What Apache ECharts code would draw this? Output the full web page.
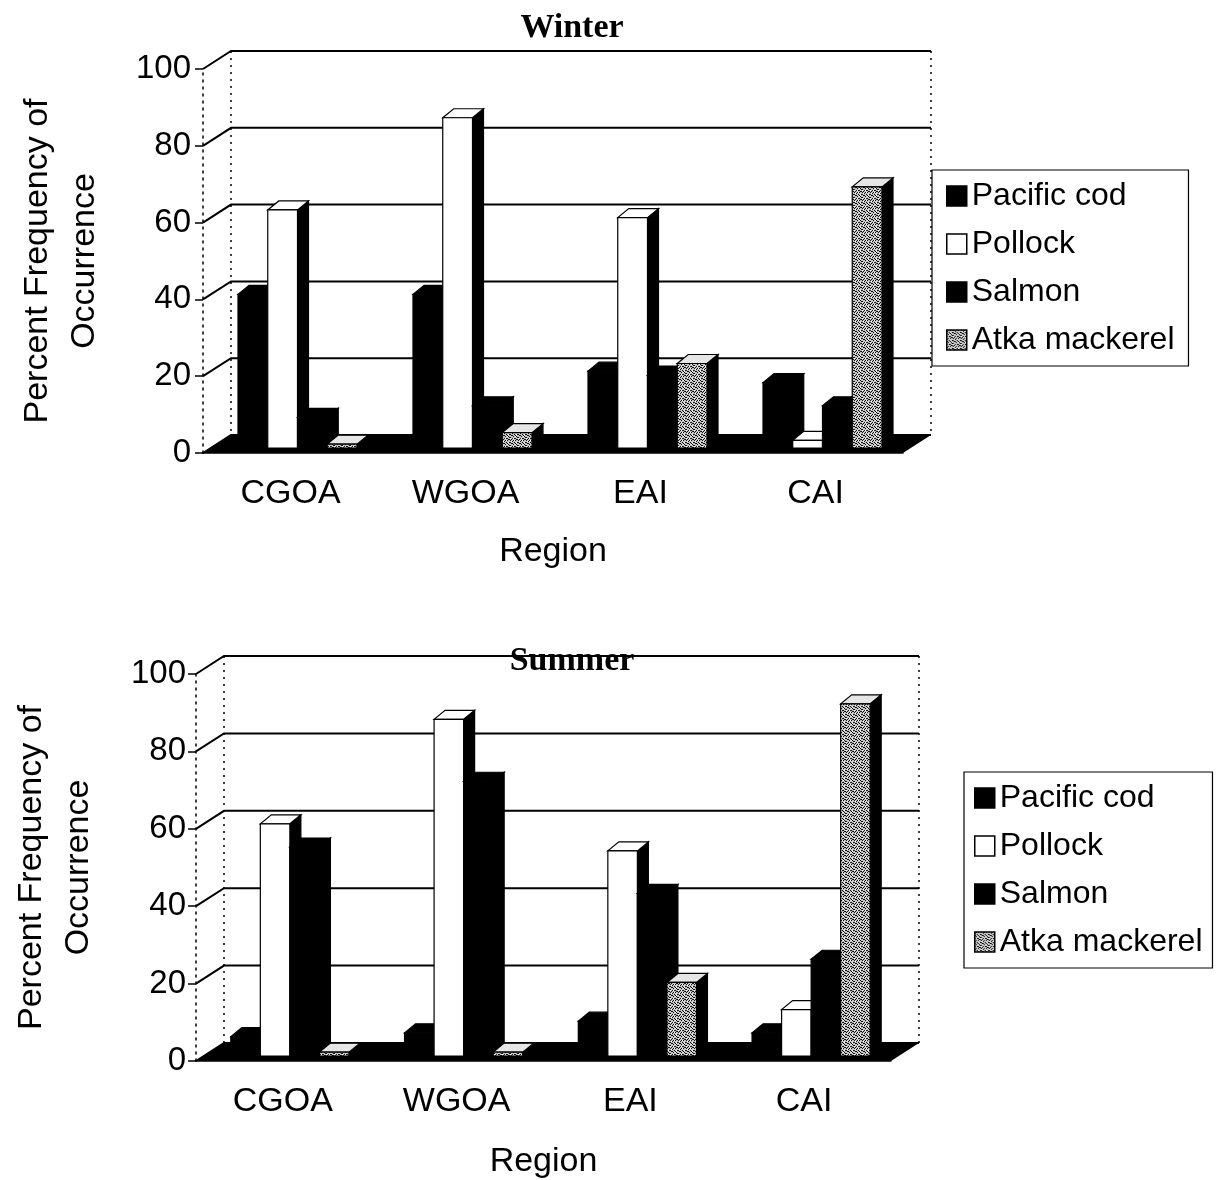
<!DOCTYPE html>
<html>
<head>
<meta charset="utf-8">
<script src="https://cdn.jsdelivr.net/npm/echarts@6/dist/echarts.min.js"></script>
<style>
  html, body { margin: 0; padding: 0; background: #fff; }
  #chart { width: 1217px; height: 1180px; }
</style>
</head>
<body>
<div id="chart"></div>
<script>
// data
const regions = ["CGOA", "WGOA", "EAI", "CAI"];
const speciesNames = ["Pacific cod", "Pollock", "Salmon", "Atka mackerel"];
const yTicks = [0, 20, 40, 60, 80, 100];

const winterCod = [40, 40, 20, 17];
const winterPollock = [62, 86, 60, 2];
const winterSalmon = [8, 11, 19, 11];
const winterAtka = [1, 4, 22, 68];

const summerCod = [5, 6, 9, 6];
const summerPollock = [60, 87, 53, 12];
const summerSalmon = [54, 71, 42, 25];
const summerAtka = [1, 1, 19, 91];

// fake-3D geometry (pixels)
const WALL_DX = 28, WALL_DY = -18;   // depth of the side wall / floor
const BAR_FX = 7, BAR_FY = -5;       // bar front face offset from front plane
const BAR_DX = 11, BAR_DY = -9;      // bar depth
const BAR_FRAC = 0.17;               // bar width as a share of the category band

const SANS = "Liberation Sans, Arial, sans-serif";

// grey speckle like the scanned Atka mackerel fill
function speckle() {
	const c = document.createElement("canvas");
	c.width = 8;
	c.height = 8;
	const g = c.getContext("2d");
	g.fillStyle = "#c4c4c4";
	g.fillRect(0, 0, 8, 8);
	g.fillStyle = "#111";
	const dots = [[0, 1], [3, 0], [5, 2], [1, 4], [6, 5], [2, 6], [4, 7], [7, 3], [3, 3], [6, 0],
		[0, 6], [5, 5], [2, 2], [7, 7], [4, 4], [1, 0], [6, 2], [3, 6], [0, 3], [5, 7]];
	dots.forEach(([x, y]) => g.fillRect(x, y, 1, 1));
	g.fillStyle = "#fff";
	[[2, 0], [7, 1], [4, 2], [1, 6], [6, 6], [3, 4]].forEach(([x, y]) => g.fillRect(x, y, 1, 1));
	return { image: c, repeat: "repeat" };
}
const atkaFill = speckle();

const faceStyle = [
	{ front: "#000", top: "#000" },
	{ front: "#fff", top: "#fff" },
	{ front: "#000", top: "#000" },
	{ front: atkaFill, top: "#e6e6e6" },
];

function barRender(k) {
	return function (params, api) {
		const base = api.coord([api.value(0), 0]);
		const top = api.coord([api.value(0), api.value(1)]);
		const band = api.size([1, 0])[0];
		const w = band * BAR_FRAC;
		const x = base[0] - 2 * w + k * w + BAR_FX;
		const yb = base[1] + BAR_FY;
		const yt = top[1] + BAR_FY;
		const line = { stroke: "#000", lineWidth: 1.2 };
		return {
			type: "group",
			children: [
				{
					type: "polygon",
					shape: { points: [[x + w, yt], [x + w + BAR_DX, yt + BAR_DY], [x + w + BAR_DX, yb + BAR_DY], [x + w, yb]] },
					style: { fill: "#000", ...line },
				},
				{
					type: "polygon",
					shape: { points: [[x, yt], [x + w, yt], [x + w + BAR_DX, yt + BAR_DY], [x + BAR_DX, yt + BAR_DY]] },
					style: { fill: faceStyle[k].top, ...line },
				},
				{
					type: "rect",
					shape: { x: x, y: yt, width: w, height: yb - yt },
					style: { fill: faceStyle[k].front, ...line },
				},
			],
		};
	};
}

// back wall gridlines, side wall edges and the black floor
function wallRender(params, api) {
	const cs = params.coordSys;
	const x0 = cs.x, x1 = cs.x + cs.width;
	const y = api.coord([0, api.value(1)])[1];
	const children = [
		{
			type: "polyline",
			shape: { points: [[x0, y], [x0 + WALL_DX, y + WALL_DY], [x1 + WALL_DX, y + WALL_DY]] },
			style: { stroke: "#000", lineWidth: 2, fill: null },
		},
	];
	if (params.dataIndex === 0) {
		const yTop = api.coord([0, yTicks[yTicks.length - 1]])[1];
		const dotted = { stroke: "#000", lineWidth: 1.5, lineDash: [2, 5], fill: null };
		children.push(
			{ type: "line", shape: { x1: x0 + WALL_DX, y1: yTop + WALL_DY, x2: x0 + WALL_DX, y2: y + WALL_DY }, style: dotted },
			{ type: "line", shape: { x1: x1 + WALL_DX, y1: yTop + WALL_DY, x2: x1 + WALL_DX, y2: y + WALL_DY }, style: dotted },
			{
				type: "polygon",
				shape: { points: [[x0, y], [x1, y], [x1 + WALL_DX, y + WALL_DY], [x0 + WALL_DX, y + WALL_DY]] },
				style: { fill: "#000" },
			}
		);
	}
	return { type: "group", children: children };
}

function panelSeries(idx, values) {
	const out = [
		{
			type: "custom",
			name: "wall" + idx,
			xAxisIndex: idx,
			yAxisIndex: idx,
			z: 1,
			silent: true,
			renderItem: wallRender,
			data: yTicks.map((v) => [0, v]),
			encode: { x: 0, y: 1 },
			clip: false,
		},
	];
	values.forEach((arr, k) => {
		out.push({
			type: "custom",
			name: speciesNames[k],
			xAxisIndex: idx,
			yAxisIndex: idx,
			z: 3 + k,
			renderItem: barRender(k),
			itemStyle: { color: faceStyle[k].front, borderColor: "#000", borderWidth: 1 },
			data: arr.map((v, i) => [i, v]),
			encode: { x: 0, y: 1 },
			clip: false,
		});
	});
	return out;
}

function legendData() {
	return speciesNames.map((n, k) => ({
		name: n,
		itemStyle: { color: faceStyle[k].front, borderColor: "#000", borderWidth: 1.5 },
	}));
}

const chart = echarts.init(document.getElementById("chart"), null, { renderer: "canvas" });

const axisText = { color: "#000", fontFamily: SANS, fontSize: 33 };

function xAxisFor(gridIndex, gap) {
	return {
		type: "category",
		gridIndex: gridIndex,
		data: regions,
		name: "Region",
		nameLocation: "middle",
		nameGap: gap,
		nameTextStyle: { ...axisText, fontSize: 34 },
		axisLine: { lineStyle: { color: "#000", width: 1.5 } },
		axisTick: { length: 8, lineStyle: { color: "#000", width: 1.5 } },
		axisLabel: { ...axisText, fontSize: 34, margin: 24 },
		splitLine: { show: false },
	};
}

function yAxisFor(gridIndex, gap, margin) {
	return {
		type: "value",
		gridIndex: gridIndex,
		min: 0,
		max: 100,
		interval: 20,
		name: "Percent Frequency of\nOccurrence",
		nameLocation: "middle",
		nameRotate: 90,
		nameGap: gap,
		nameTextStyle: { ...axisText, fontSize: 34, lineHeight: 47 },
		axisLine: { show: true, lineStyle: { color: "#000", width: 1.5, type: [2, 5] } },
		axisTick: { show: true, length: 8, lineStyle: { color: "#000", width: 1.5 } },
		axisLabel: { ...axisText, margin: margin },
		splitLine: { show: false },
	};
}

const legendText = { color: "#000", fontFamily: SANS, fontSize: 32, lineHeight: 30 };

chart.setOption({
	animation: false,
	backgroundColor: "#fff",
	title: [
		{
			text: "Winter",
			left: 567,
			top: 6,
			textAlign: "center",
			textStyle: { fontFamily: "Liberation Serif, Times New Roman, serif", fontWeight: "bold", fontSize: 34, color: "#000" },
		},
		{
			text: "Summer",
			left: 567,
			top: 639,
			textAlign: "center",
			z: 10,
			textStyle: { fontFamily: "Liberation Serif, Times New Roman, serif", fontWeight: "bold", fontSize: 34, color: "#000" },
		},
	],
	legend: [
		{
			orient: "vertical",
			left: 932,
			top: 170,
			padding: [10, 14, 10, 14],
			itemGap: 16,
			itemWidth: 20,
			itemHeight: 20,
			icon: "rect",
			borderColor: "#000",
			borderWidth: 1.2,
			textStyle: legendText,
			data: legendData(),
		},
		{
			orient: "vertical",
			left: 964,
			top: 772,
			padding: [10, 10, 10, 10],
			itemGap: 16,
			itemWidth: 20,
			itemHeight: 20,
			icon: "rect",
			borderColor: "#000",
			borderWidth: 1.2,
			textStyle: legendText,
			data: legendData(),
		},
	],
	grid: [
		{ left: 203, top: 69, width: 700, height: 384 },
		{ left: 185, top: 674, width: 706, height: 387 },
	],
	xAxis: [xAxisFor(0, 82), xAxisFor(1, 84)],
	yAxis: [yAxisFor(0, 95, 12), yAxisFor(1, 94, 10)],
	series: [
		...panelSeries(0, [winterCod, winterPollock, winterSalmon, winterAtka]),
		...panelSeries(1, [summerCod, summerPollock, summerSalmon, summerAtka]),
	],
});
</script>
</body>
</html>
